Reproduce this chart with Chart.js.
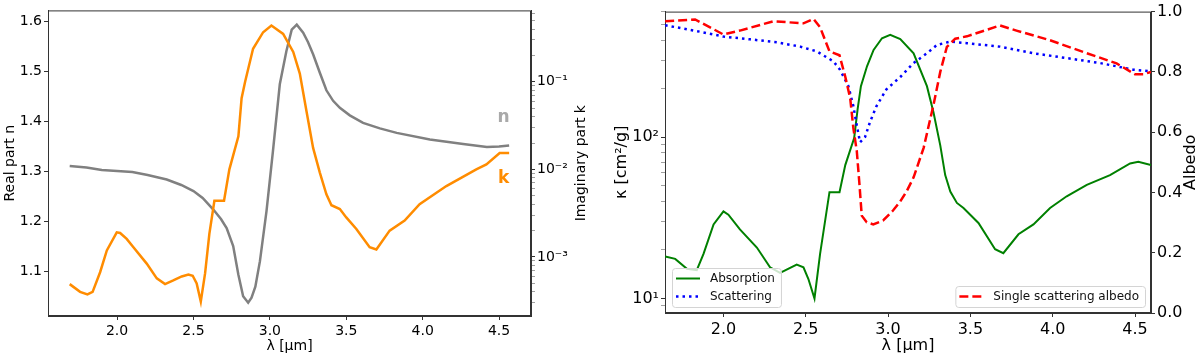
<!DOCTYPE html>
<html>
<head>
<meta charset="utf-8">
<script src="https://cdn.jsdelivr.net/npm/chart.js@4.4.1/dist/chart.umd.min.js"></script>
<style>
  html, body { margin: 0; padding: 0; background: #fff; }
  #wrap { position: relative; width: 1200px; height: 356px; }
  canvas { position: absolute; top: 0; }
</style>
</head>
<body>
<div id="wrap">
  <canvas id="nkChart" width="600" height="356" style="left:0"></canvas>
  <canvas id="opacChart" width="600" height="356" style="left:600px"></canvas>
</div>
<script>
// ---- values ----
// left panel: optical constants
const lamN = [1.69, 1.8, 1.9, 2.0, 2.1, 2.2, 2.325, 2.42, 2.5, 2.56, 2.63, 2.68, 2.717, 2.76, 2.794, 2.825, 2.858, 2.88, 2.905, 2.935, 2.978, 3.02, 3.065, 3.108, 3.143, 3.176, 3.218, 3.25, 3.283, 3.327, 3.37, 3.414, 3.458, 3.523, 3.61, 3.72, 3.83, 4.047, 4.265, 4.42, 4.5, 4.566];
const nReal = [1.311, 1.308, 1.303, 1.301, 1.299, 1.293, 1.284, 1.273, 1.261, 1.247, 1.224, 1.205, 1.187, 1.151, 1.094, 1.051, 1.038, 1.048, 1.07, 1.121, 1.221, 1.34, 1.474, 1.54, 1.583, 1.593, 1.577, 1.558, 1.534, 1.497, 1.462, 1.441, 1.427, 1.412, 1.397, 1.386, 1.377, 1.364, 1.355, 1.349, 1.350, 1.352];

const lamK = [1.69, 1.758, 1.806, 1.84, 1.889, 1.933, 1.998, 2.02, 2.063, 2.107, 2.194, 2.26, 2.314, 2.368, 2.423, 2.467, 2.495, 2.521, 2.548, 2.576, 2.604, 2.637, 2.7, 2.735, 2.794, 2.815, 2.838, 2.89, 2.956, 3.01, 3.087, 3.153, 3.196, 3.24, 3.283, 3.327, 3.37, 3.403, 3.458, 3.5, 3.566, 3.653, 3.697, 3.784, 3.882, 3.98, 4.155, 4.351, 4.417, 4.504, 4.566];
const kImag = [4.9e-4, 4.0e-4, 3.74e-4, 4.0e-4, 6.7e-4, 1.19e-3, 1.91e-3, 1.88e-3, 1.61e-3, 1.29e-3, 8.4e-4, 5.7e-4, 4.9e-4, 5.4e-4, 6.0e-4, 6.3e-4, 6.1e-4, 5.0e-4, 3.1e-4, 6.5e-4, 1.84e-3, 4.38e-3, 4.38e-3, 0.01, 0.0238, 0.065, 0.1, 0.238, 0.368, 0.438, 0.352, 0.219, 0.124, 0.0457, 0.0176, 9.2e-3, 5.2e-3, 3.9e-3, 3.52e-3, 2.83e-3, 2.09e-3, 1.29e-3, 1.22e-3, 2.0e-3, 2.6e-3, 4.0e-3, 6.45e-3, 0.01, 0.0114, 0.0154, 0.0154];

// right panel: opacities and albedo
const lamAbs = [1.646, 1.707, 1.778, 1.838, 1.879, 1.94, 2.0, 2.03, 2.1, 2.203, 2.283, 2.344, 2.445, 2.486, 2.516, 2.553, 2.587, 2.644, 2.705, 2.74, 2.794, 2.815, 2.835, 2.872, 2.912, 2.963, 3.013, 3.074, 3.155, 3.236, 3.276, 3.317, 3.347, 3.378, 3.418, 3.458, 3.549, 3.65, 3.7, 3.792, 3.883, 3.984, 4.085, 4.207, 4.348, 4.47, 4.52, 4.597];
const kappaAbs = [18.2, 17.6, 15.3, 15.0, 18.9, 28.8, 34.7, 33.1, 26.8, 20.7, 15.6, 14.4, 16.2, 15.6, 13.2, 10.0, 18.9, 45.6, 45.6, 67.1, 98.6, 149, 207, 275, 347, 410, 430, 405, 331, 207, 142, 89, 58.2, 46, 39.1, 36.4, 29.4, 20.2, 19.1, 25, 28.8, 36.4, 43, 50.6, 58.2, 68.7, 70.3, 67.1];

const lamSca = [1.646, 1.859, 2.0, 2.162, 2.324, 2.466, 2.567, 2.668, 2.708, 2.759, 2.789, 2.81, 2.83, 2.86, 2.89, 2.93, 2.99, 3.074, 3.155, 3.236, 3.297, 3.378, 3.479, 3.68, 3.883, 4.085, 4.287, 4.49, 4.597];
const kappaSca = [494, 450, 420, 404, 387, 364, 340, 295, 262, 207, 156, 118, 93, 100, 124, 156, 198, 236, 288, 331, 373, 391, 382, 364, 331, 309, 288, 262, 256];

const lamAlb = [1.646, 1.828, 2.0, 2.1, 2.304, 2.486, 2.547, 2.587, 2.644, 2.705, 2.74, 2.77, 2.789, 2.81, 2.826, 2.84, 2.87, 2.91, 2.97, 3.03, 3.074, 3.115, 3.155, 3.216, 3.276, 3.317, 3.357, 3.408, 3.479, 3.68, 3.78, 3.984, 4.186, 4.388, 4.5, 4.55, 4.597];
const albedo = [0.968, 0.974, 0.924, 0.937, 0.968, 0.961, 0.976, 0.948, 0.868, 0.855, 0.784, 0.712, 0.614, 0.537, 0.428, 0.323, 0.301, 0.294, 0.307, 0.34, 0.37, 0.406, 0.45, 0.548, 0.691, 0.8, 0.883, 0.91, 0.918, 0.954, 0.937, 0.905, 0.866, 0.828, 0.792, 0.792, 0.8];

// tick labels
const lamTicks = [2.0, 2.5, 3.0, 3.5, 4.0, 4.5];
const nTicks = [1.1, 1.2, 1.3, 1.4, 1.5, 1.6];
const kTicks = [1e-3, 1e-2, 1e-1];
const kappaTicks = [10, 100];
const albedoTicks = [0.0, 0.2, 0.4, 0.6, 0.8, 1.0];

// series tags on the left panel (lambda, n-axis value)
const tagText = ['n', 'k'];
const tagLam = [4.53, 4.53];
const tagPos = [1.408, 1.285];

Chart.defaults.font.family = "'DejaVu Sans', sans-serif";
Chart.defaults.color = '#000';

const pts = (xs, ys) => xs.map((x, i) => ({ x: x, y: ys[i] }));

const supMap = { '-': '\u207b', '0': '\u2070', '1': '\u00b9', '2': '\u00b2', '3': '\u00b3', '4': '\u2074' };
function powLabel(v, majors) {
  if (!majors.some(m => Math.abs(m - v) < 1e-9 * m)) return '';
  const e = Math.round(Math.log10(v));
  return '10' + String(e).split('').map(c => supMap[c]).join('');
}

// major + minor ticks for a log axis
function logTicks(min, max) {
  const out = [];
  for (let d = Math.floor(Math.log10(min)); d <= Math.ceil(Math.log10(max)); d++) {
    for (let m = 1; m <= 9; m++) {
      const v = m * Math.pow(10, d);
      if (v >= min && v <= max) out.push({ value: v });
    }
  }
  return out;
}

function isMajor(v) {
  const e = Math.log10(v);
  return Math.abs(e - Math.round(e)) < 1e-6;
}

// full box around the plot like matplotlib spines
const framePlugin = {
  id: 'frame',
  beforeDatasetsDraw(chart) {
    const a = chart.chartArea, ctx = chart.ctx;
    ctx.save();
    ctx.strokeStyle = '#333';
    ctx.lineWidth = 1;
    ctx.strokeRect(a.left + 0.5, a.top + 0.5, a.right - a.left - 1, a.bottom - a.top - 1);
    ctx.restore();
  }
};

// rotated title for the right-hand axis (reads bottom-to-top)
const sideTitlePlugin = {
  id: 'sideTitle',
  afterDraw(chart, args, opts) {
    if (!opts.text) return;
    const a = chart.chartArea, ctx = chart.ctx;
    ctx.save();
    ctx.translate(a.right + opts.offset, (a.top + a.bottom) / 2);
    ctx.rotate(-Math.PI / 2);
    ctx.font = opts.size + "px 'DejaVu Sans'";
    ctx.fillStyle = '#000';
    ctx.textAlign = 'center';
    ctx.textBaseline = 'middle';
    ctx.fillText(opts.text, 0, 0);
    ctx.restore();
  }
};

// n / k tags
const tagPlugin = {
  id: 'tags',
  afterDatasetsDraw(chart, args, opts) {
    if (!opts.items) return;
    const ctx = chart.ctx, xs = chart.scales.x, ys = chart.scales.yN;
    ctx.save();
    ctx.font = "bold 17px 'DejaVu Sans'";
    ctx.textAlign = 'center';
    ctx.textBaseline = 'middle';
    opts.items.forEach(t => {
      ctx.fillStyle = t.color;
      ctx.fillText(t.text, xs.getPixelForValue(t.x), ys.getPixelForValue(t.y));
    });
    ctx.restore();
  }
};

// matplotlib-like legend boxes inside the plot
const boxLegendPlugin = {
  id: 'boxLegend',
  afterDatasetsDraw(chart, args, opts) {
    if (!opts.boxes) return;
    const ctx = chart.ctx, a = chart.chartArea;
    ctx.save();
    ctx.font = "12px 'DejaVu Sans'";
    opts.boxes.forEach(b => {
      const sets = b.items.map(i => chart.data.datasets[i]);
      const tw = Math.max(...sets.map(s => ctx.measureText(s.label).width));
      const w = 3 + 24 + 11 + tw + 6;
      const h = 21 + 18 * (sets.length - 1);
      const left = b.corner === 'left' ? a.left + 7 : a.right - 6 - w;
      const top = a.bottom - 6 - h;
      ctx.beginPath();
      ctx.roundRect(left + 0.5, top + 0.5, w, h, 3);
      ctx.fillStyle = 'rgba(255,255,255,0.8)';
      ctx.fill();
      ctx.strokeStyle = '#d4d4d4';
      ctx.lineWidth = 1;
      ctx.stroke();
      sets.forEach((s, r) => {
        const cy = top + 10.5 + 18 * r;
        ctx.beginPath();
        ctx.setLineDash(s.borderDash || []);
        ctx.strokeStyle = s.borderColor;
        ctx.lineWidth = s.borderWidth;
        ctx.moveTo(left + 4, cy);
        ctx.lineTo(left + 28, cy);
        ctx.stroke();
        ctx.setLineDash([]);
        ctx.fillStyle = '#111';
        ctx.textAlign = 'left';
        ctx.textBaseline = 'middle';
        ctx.fillText(s.label, left + 38, cy);
      });
    });
    ctx.restore();
  }
};

const tickGrid = {
  drawOnChartArea: false,
  drawTicks: true,
  tickLength: 4,
  tickColor: '#333'
};
const logGrid = {
  drawOnChartArea: false,
  drawTicks: true,
  tickLength: 4,
  tickColor: (c) => (c.tick && isMajor(c.tick.value) ? '#333' : '#777'),
  tickWidth: (c) => (c.tick && isMajor(c.tick.value) ? 1 : 0.7)
};
const border = { display: true, color: '#333', width: 1 };

// ---- left: n and k ----
new Chart(document.getElementById('nkChart'), {
  type: 'line',
  data: {
    datasets: [
      {
        label: 'k',
        data: pts(lamK, kImag),
        yAxisID: 'yK',
        borderColor: '#ff8c00',
        borderWidth: 2.5,
        pointRadius: 0,
        tension: 0,
        order: 0
      },
      {
        label: 'n',
        data: pts(lamN, nReal),
        yAxisID: 'yN',
        borderColor: '#808080',
        borderWidth: 2.5,
        pointRadius: 0,
        tension: 0,
        order: 1
      }
    ]
  },
  options: {
    responsive: false,
    animation: false,
    events: [],
    layout: { padding: { top: 9, left: 0, right: 0, bottom: 0 } },
    plugins: {
      legend: { display: false },
      tooltip: { enabled: false },
      sideTitle: { text: 'Imaginary part k', offset: 50, size: 14 },
      tags: {
        items: tagText.map((t, i) => ({ text: t, x: tagLam[i], y: tagPos[i], color: i === 0 ? '#a9a9a9' : '#ff8c00' }))
      }
    },
    scales: {
      x: {
        type: 'linear',
        min: 1.548,
        max: 4.709,
        grid: tickGrid,
        border: border,
        afterFit: (s) => { s.height = 40; },
        afterBuildTicks: (s) => { s.ticks = lamTicks.map(v => ({ value: v })); },
        ticks: { autoSkip: false, maxRotation: 0, padding: 3, font: { size: 14 }, callback: (v) => v.toFixed(1) },
        title: { display: true, text: '\u03bb [\u03bcm]', font: { size: 14 }, padding: { top: 0, bottom: 1 } }
      },
      yN: {
        type: 'linear',
        position: 'left',
        min: 1.0115,
        max: 1.6215,
        grid: tickGrid,
        border: border,
        afterFit: (s) => { s.width = 48; },
        afterBuildTicks: (s) => { s.ticks = nTicks.map(v => ({ value: v })); },
        ticks: { autoSkip: false, padding: 2, font: { size: 14 }, callback: (v) => v.toFixed(1) },
        title: { display: true, text: 'Real part n', font: { size: 14 }, padding: { top: 2, bottom: 0 } }
      },
      yK: {
        type: 'logarithmic',
        position: 'right',
        min: 2.12e-4,
        max: 0.653,
        grid: logGrid,
        border: border,
        afterFit: (s) => { s.width = 69; },
        afterBuildTicks: (s) => { s.ticks = logTicks(s.min, s.max); },
        ticks: { autoSkip: false, padding: 2, font: { size: 14 }, callback: (v) => powLabel(v, kTicks) }
      }
    }
  },
  plugins: [framePlugin, sideTitlePlugin, tagPlugin]
});

// ---- right: opacities and albedo ----
new Chart(document.getElementById('opacChart'), {
  type: 'line',
  data: {
    datasets: [
      {
        label: 'Absorption',
        data: pts(lamAbs, kappaAbs),
        yAxisID: 'yKappa',
        borderColor: '#008000',
        borderWidth: 2,
        pointRadius: 0,
        tension: 0,
        order: 3
      },
      {
        label: 'Scattering',
        data: pts(lamSca, kappaSca),
        yAxisID: 'yKappa',
        borderColor: '#0000ff',
        borderWidth: 2.5,
        borderDash: [2.5, 4],
        pointRadius: 0,
        tension: 0,
        order: 2
      },
      {
        label: 'Single scattering albedo',
        data: pts(lamAlb, albedo),
        yAxisID: 'yAlb',
        borderColor: '#ff0000',
        borderWidth: 2.5,
        borderDash: [9, 4],
        pointRadius: 0,
        tension: 0,
        order: 1
      }
    ]
  },
  options: {
    responsive: false,
    animation: false,
    events: [],
    layout: { padding: { top: 8, left: 0, right: 0, bottom: 0 } },
    plugins: {
      legend: { display: false },
      tooltip: { enabled: false },
      sideTitle: { text: 'Albedo', offset: 40, size: 16 },
      boxLegend: {
        boxes: [
          { items: [0, 1], corner: 'left' },
          { items: [2], corner: 'right' }
        ]
      }
    },
    scales: {
      x: {
        type: 'linear',
        min: 1.645,
        max: 4.597,
        grid: tickGrid,
        border: border,
        afterFit: (s) => { s.height = 43; },
        afterBuildTicks: (s) => { s.ticks = lamTicks.map(v => ({ value: v })); },
        ticks: { autoSkip: false, maxRotation: 0, padding: 3, font: { size: 16 }, callback: (v) => v.toFixed(1) },
        title: { display: true, text: '\u03bb [\u03bcm]', font: { size: 16 }, padding: { top: 0, bottom: 1 } }
      },
      yKappa: {
        type: 'logarithmic',
        position: 'left',
        min: 8.13,
        max: 600,
        grid: logGrid,
        border: border,
        afterFit: (s) => { s.width = 65; },
        afterBuildTicks: (s) => { s.ticks = logTicks(s.min, s.max); },
        ticks: { autoSkip: false, padding: 2, font: { size: 16 }, callback: (v) => powLabel(v, kappaTicks) },
        title: { display: true, text: '\u03ba [cm\u00b2/g]', font: { size: 16 }, padding: { top: 12, bottom: 0 } }
      },
      yAlb: {
        type: 'linear',
        position: 'right',
        min: 0,
        max: 1,
        grid: tickGrid,
        border: border,
        afterFit: (s) => { s.width = 49; },
        afterBuildTicks: (s) => { s.ticks = albedoTicks.map(v => ({ value: v })); },
        ticks: { autoSkip: false, padding: 2, font: { size: 16 }, callback: (v) => v.toFixed(1) }
      }
    }
  },
  plugins: [framePlugin, sideTitlePlugin, boxLegendPlugin]
});
</script>
</body>
</html>
